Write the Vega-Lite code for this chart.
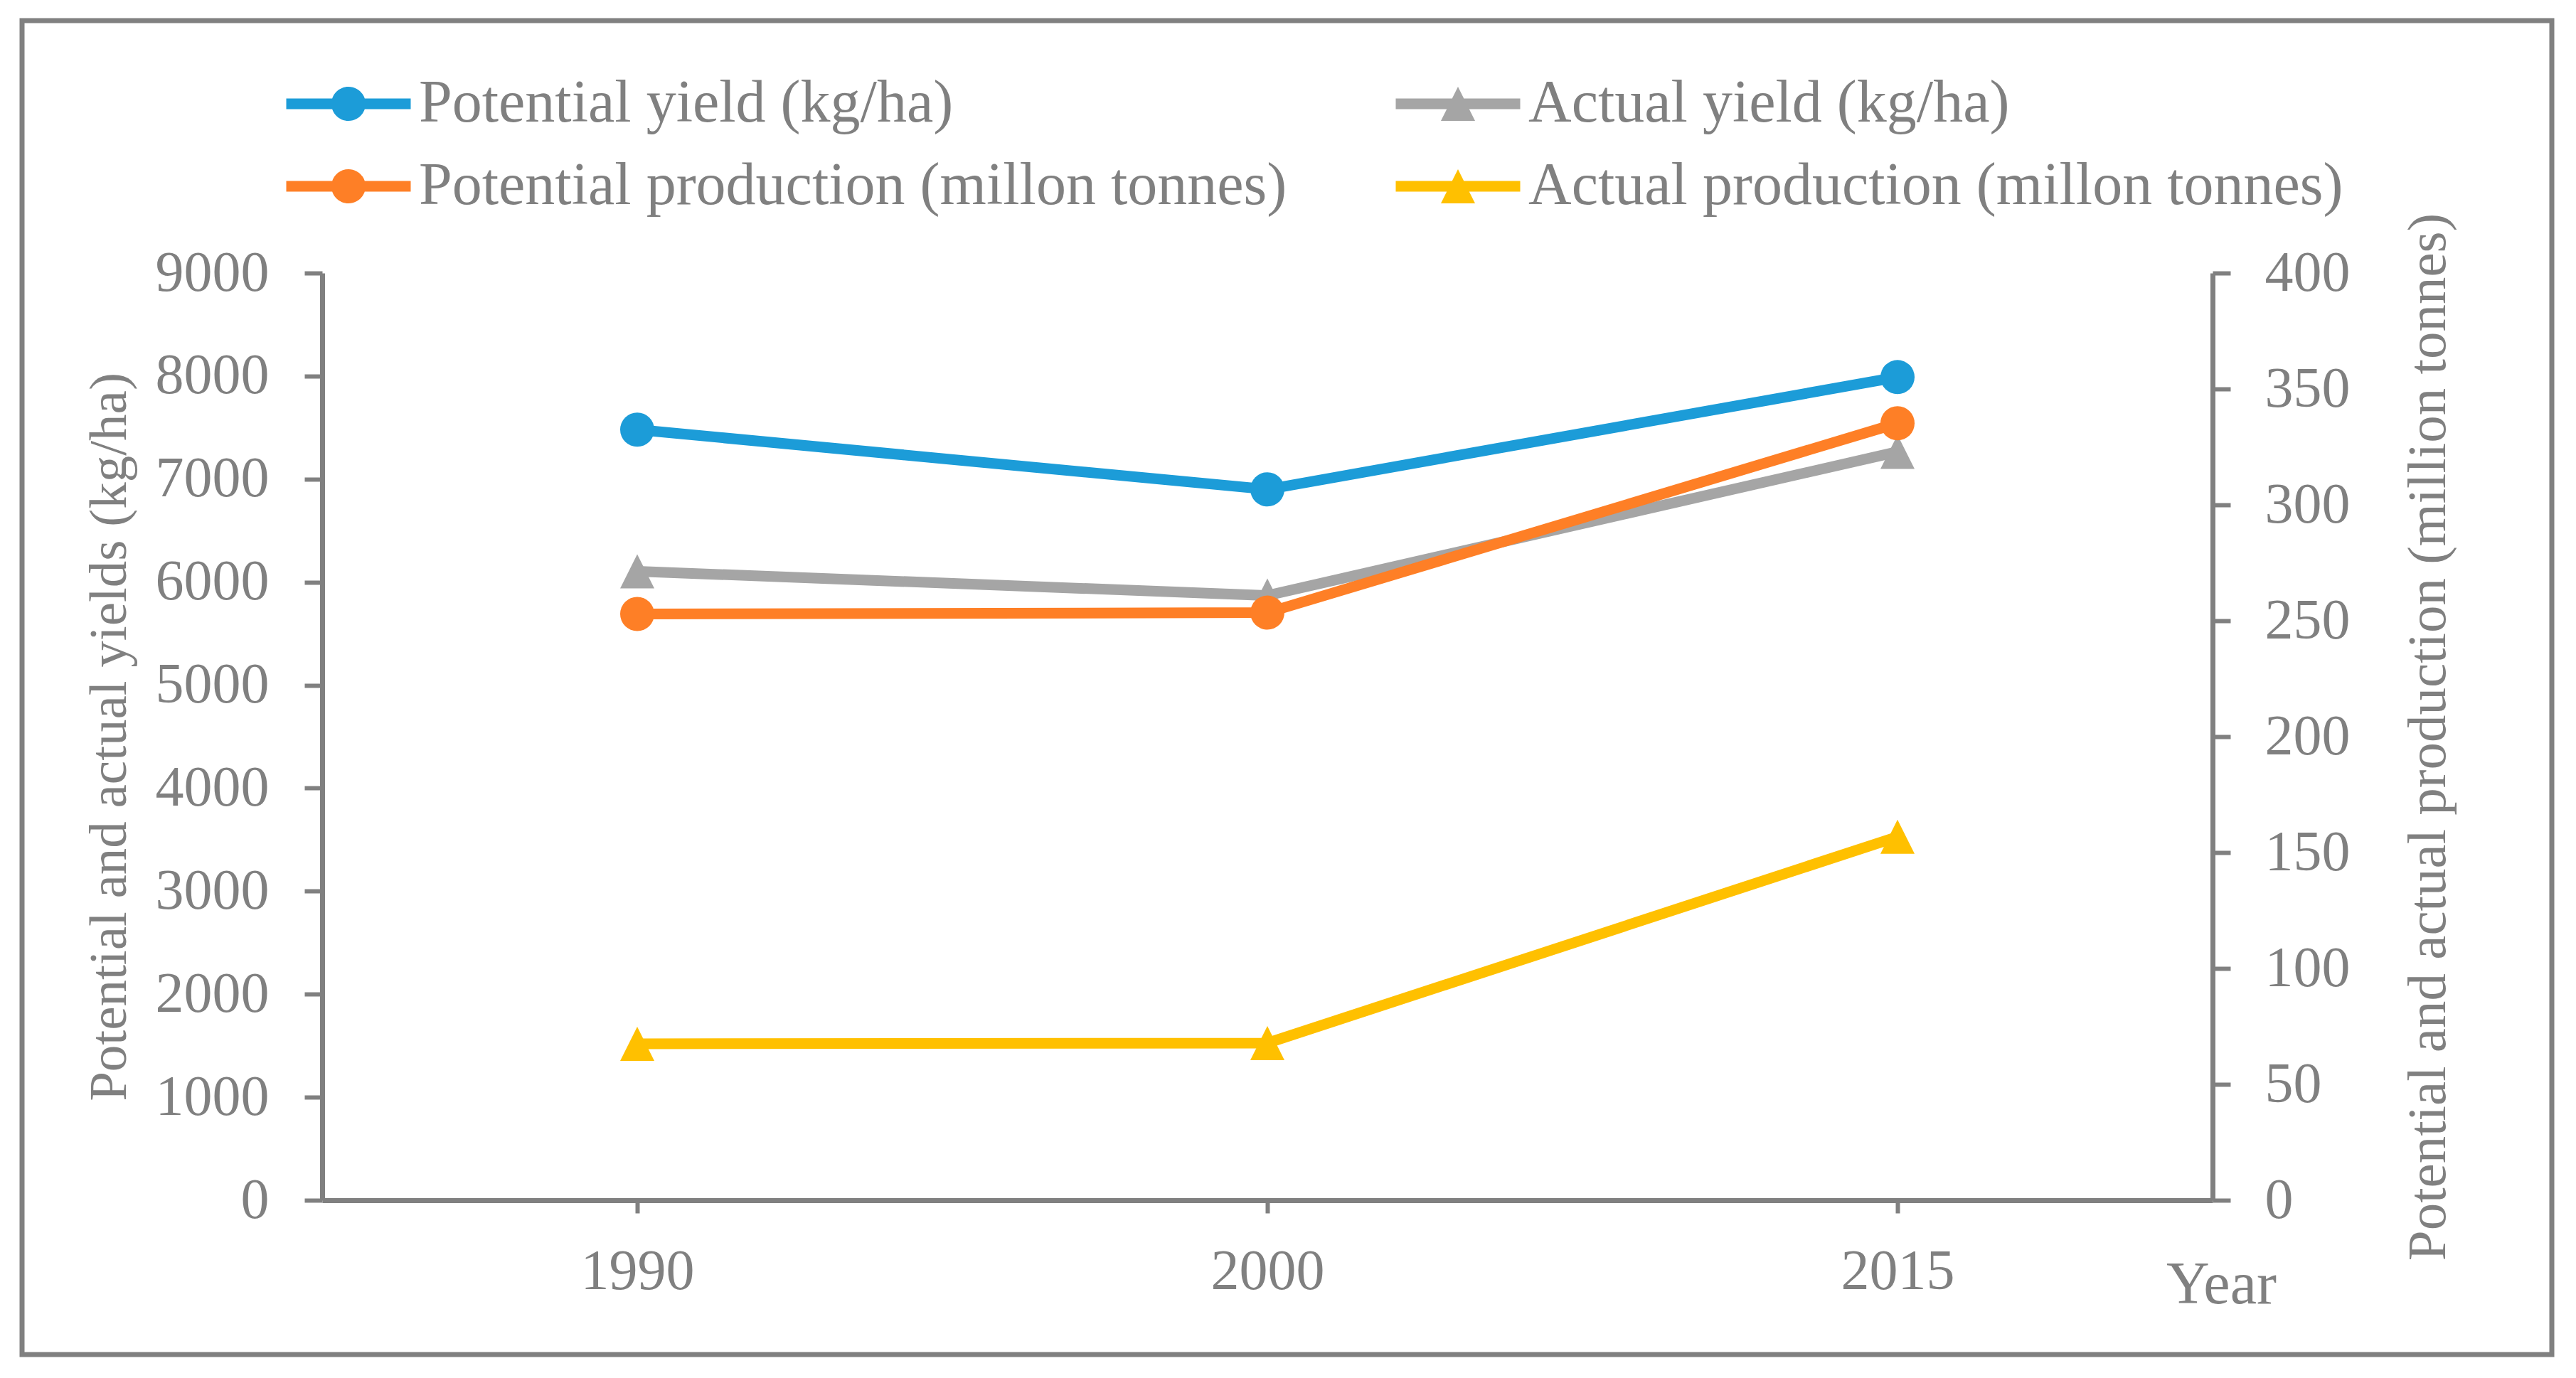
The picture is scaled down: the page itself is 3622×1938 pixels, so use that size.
{
  "$schema": "https://vega.github.io/schema/vega-lite/v6.json",
  "width": 3557,
  "height": 1876,
  "autosize": {"type": "none"},
  "padding": {"left": 31, "top": 29, "right": 34, "bottom": 33},
  "background": "white",
  "config": {
    "view": {"stroke": "#808080", "strokeWidth": 7},
    "font": "Liberation Serif",
    "axis": {
      "grid": false,
      "domainColor": "#808080",
      "domainWidth": 7,
      "tickColor": "#808080",
      "tickWidth": 6,
      "labelFont": "Liberation Serif",
      "labelColor": "#808080",
      "labelFontSize": 80,
      "labelLimit": 3000,
      "titleFont": "Liberation Serif",
      "titleColor": "#808080",
      "titleFontWeight": "normal",
      "titleLimit": 4000
    },
    "legend": {
      "labelFont": "Liberation Serif",
      "labelColor": "#808080",
      "labelFontSize": 84,
      "labelLimit": 3000
    }
  },
  "data": {
    "values": [
      {"year": "1990", "series": "Potential yield (kg/ha)", "kind": "yield", "level": "potential", "value": 7480},
      {"year": "2000", "series": "Potential yield (kg/ha)", "kind": "yield", "level": "potential", "value": 6900},
      {"year": "2015", "series": "Potential yield (kg/ha)", "kind": "yield", "level": "potential", "value": 7990},
      {"year": "1990", "series": "Actual yield (kg/ha)", "kind": "yield", "level": "actual", "value": 6105},
      {"year": "2000", "series": "Actual yield (kg/ha)", "kind": "yield", "level": "actual", "value": 5870},
      {"year": "2015", "series": "Actual yield (kg/ha)", "kind": "yield", "level": "actual", "value": 7265},
      {"year": "1990", "series": "Potential production (millon tonnes)", "kind": "production", "level": "potential", "value": 252.9},
      {"year": "2000", "series": "Potential production (millon tonnes)", "kind": "production", "level": "potential", "value": 253.5},
      {"year": "2015", "series": "Potential production (millon tonnes)", "kind": "production", "level": "potential", "value": 335.2},
      {"year": "1990", "series": "Actual production (millon tonnes)", "kind": "production", "level": "actual", "value": 67.5},
      {"year": "2000", "series": "Actual production (millon tonnes)", "kind": "production", "level": "actual", "value": 67.8},
      {"year": "2015", "series": "Actual production (millon tonnes)", "kind": "production", "level": "actual", "value": 156.8}
    ]
  },
  "encoding": {
    "x": {
      "field": "year",
      "type": "ordinal",
      "scale": {"type": "point", "padding": 0.5, "range": [422, 3080]},
      "axis": {
        "orient": "bottom",
        "offset": -217,
        "labelAngle": 0,
        "tickSize": 18,
        "labelPadding": 43,
        "title": "Year",
        "titleFontSize": 84,
        "titleX": 3092,
        "titleY": 144,
        "titleAlign": "center",
        "titleBaseline": "alphabetic",
        "titleAnchor": null
      }
    }
  },
  "layer": [
    {
      "transform": [{"filter": "datum.kind === 'yield'"}],
      "encoding": {
        "y": {
          "field": "value",
          "type": "quantitative",
          "scale": {"domain": [0, 9000], "range": [1659, 355], "nice": false},
          "axis": {
            "orient": "left",
            "offset": -422,
            "values": [0, 1000, 2000, 3000, 4000, 5000, 6000, 7000, 8000, 9000],
            "format": "d",
            "tickSize": 25,
            "labelPadding": 50,
            "title": "Potential and actual yields (kg/ha)",
            "titleFontSize": 75,
            "titleAngle": 270,
            "titleAlign": "center",
            "titleBaseline": "middle",
            "titleAnchor": null,
            "titleX": -300,
            "titleY": 1007
          }
        }
      },
      "layer": [
        {
          "transform": [{"filter": "datum.level === 'potential'"}],
          "encoding": {
            "color": {
              "field": "series",
              "type": "nominal",
              "scale": {
                "domain": ["Potential yield (kg/ha)", "Potential production (millon tonnes)"],
                "range": ["#1C9CD8", "#FE7F26"]
              },
              "legend": {
                "title": null,
                "orient": "none",
                "legendX": 415,
                "legendY": 73,
                "direction": "vertical",
                "padding": 0,
                "symbolSize": 7656,
                "symbolType": "M-2,-0.171H2V0.171H-2Z M0.549,0 A0.549,0.549 0 1,1 -0.549,0 A0.549,0.549 0 1,1 0.549,0 Z",
                "symbolStrokeWidth": 0,
                "symbolOpacity": 1,
                "labelOffset": 55,
                "rowPadding": 30
              }
            }
          },
          "layer": [
            {"mark": {"type": "line", "strokeWidth": 15}},
            {"mark": {"type": "point", "filled": true, "opacity": 1, "size": 2304, "shape": "circle"}}
          ]
        },
        {
          "transform": [{"filter": "datum.level === 'actual'"}],
          "layer": [
            {
              "mark": {"type": "line", "strokeWidth": 15},
              "encoding": {
                "stroke": {
                  "field": "series",
                  "type": "nominal",
                  "scale": {
                    "domain": ["Actual yield (kg/ha)", "Actual production (millon tonnes)"],
                    "range": ["#A5A5A5", "#FFC000"]
                  },
                  "legend": {
                    "title": null,
                    "orient": "none",
                    "legendX": 1975,
                    "legendY": 73,
                    "direction": "vertical",
                    "padding": 0,
                    "symbolSize": 7656,
                    "symbolType": "M-2,-0.171H2V0.171H-2Z M0,-0.549 L0.549,0.549 L-0.549,0.549 Z",
                    "symbolStrokeWidth": 0,
                    "symbolOpacity": 1,
                    "labelOffset": 55,
                    "rowPadding": 30
                  }
                }
              }
            },
            {
              "mark": {"type": "point", "filled": true, "opacity": 1, "size": 2304, "shape": "M0,-1L1,1L-1,1Z"},
              "encoding": {
                "fill": {
                  "field": "series",
                  "type": "nominal",
                  "scale": {
                    "domain": ["Actual yield (kg/ha)", "Actual production (millon tonnes)"],
                    "range": ["#A5A5A5", "#FFC000"]
                  },
                  "legend": {
                    "title": null,
                    "orient": "none",
                    "legendX": 1975,
                    "legendY": 73,
                    "direction": "vertical",
                    "padding": 0,
                    "symbolSize": 7656,
                    "symbolType": "M-2,-0.171H2V0.171H-2Z M0,-0.549 L0.549,0.549 L-0.549,0.549 Z",
                    "symbolStrokeWidth": 0,
                    "symbolOpacity": 1,
                    "labelOffset": 55,
                    "rowPadding": 30
                  }
                }
              }
            }
          ]
        }
      ]
    },
    {
      "transform": [{"filter": "datum.kind === 'production'"}],
      "encoding": {
        "y": {
          "field": "value",
          "type": "quantitative",
          "scale": {"domain": [0, 400], "range": [1659, 355], "nice": false},
          "axis": {
            "orient": "right",
            "offset": -477,
            "values": [0, 50, 100, 150, 200, 250, 300, 350, 400],
            "format": "d",
            "tickSize": 25,
            "labelPadding": 48,
            "title": "Potential and actual production (million tonnes)",
            "titleFontSize": 77,
            "titleAngle": 270,
            "titleBaseline": "top",
            "titlePadding": 72
          }
        }
      },
      "layer": [
        {
          "transform": [{"filter": "datum.level === 'potential'"}],
          "encoding": {
            "color": {
              "field": "series",
              "type": "nominal",
              "scale": {
                "domain": ["Potential yield (kg/ha)", "Potential production (millon tonnes)"],
                "range": ["#1C9CD8", "#FE7F26"]
              }
            }
          },
          "layer": [
            {"mark": {"type": "line", "strokeWidth": 15}},
            {"mark": {"type": "point", "filled": true, "opacity": 1, "size": 2304, "shape": "circle"}}
          ]
        },
        {
          "transform": [{"filter": "datum.level === 'actual'"}],
          "layer": [
            {
              "mark": {"type": "line", "strokeWidth": 15},
              "encoding": {
                "stroke": {
                  "field": "series",
                  "type": "nominal",
                  "scale": {
                    "domain": ["Actual yield (kg/ha)", "Actual production (millon tonnes)"],
                    "range": ["#A5A5A5", "#FFC000"]
                  }
                }
              }
            },
            {
              "mark": {"type": "point", "filled": true, "opacity": 1, "size": 2304, "shape": "M0,-1L1,1L-1,1Z"},
              "encoding": {
                "fill": {
                  "field": "series",
                  "type": "nominal",
                  "scale": {
                    "domain": ["Actual yield (kg/ha)", "Actual production (millon tonnes)"],
                    "range": ["#A5A5A5", "#FFC000"]
                  }
                }
              }
            }
          ]
        }
      ]
    }
  ],
  "resolve": {"scale": {"y": "independent"}}
}
